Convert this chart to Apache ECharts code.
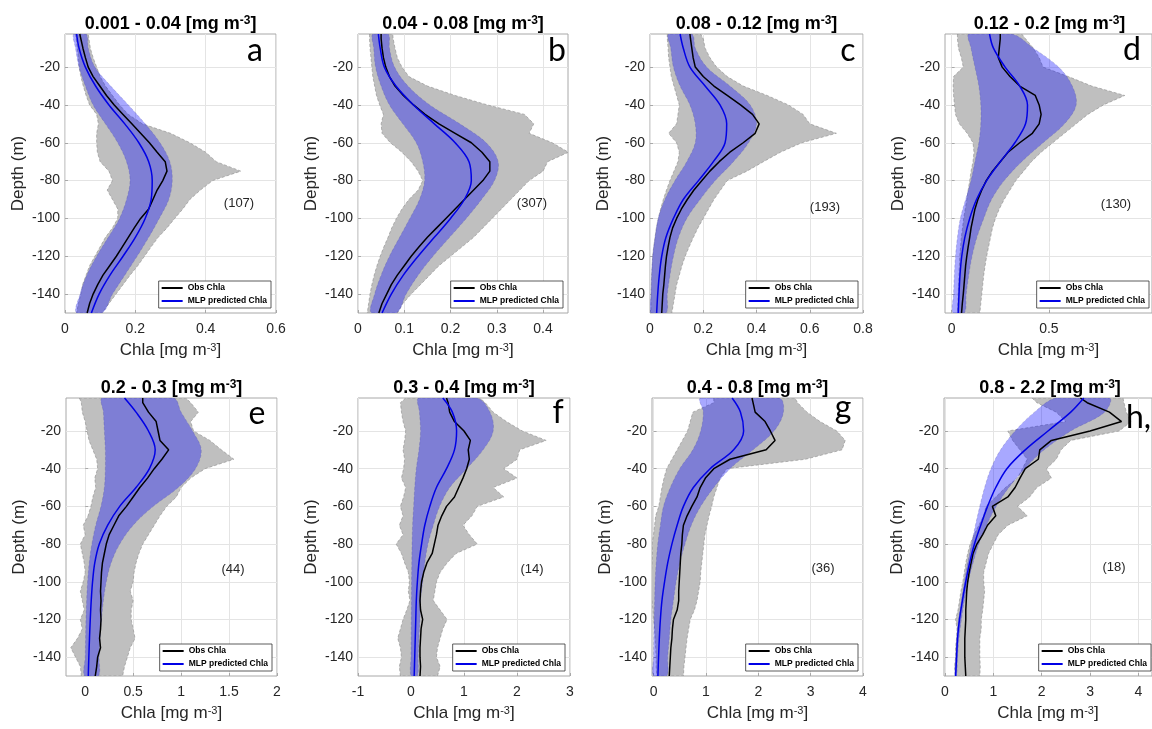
<!DOCTYPE html>
<html>
<head>
<meta charset="utf-8">
<title>Chla profiles by surface Chla class</title>
<script src="https://cdn.jsdelivr.net/npm/echarts@6.0.0/dist/echarts.min.js"></script>
<style>
  html, body { margin: 0; padding: 0; background: #fff; }
  #chart { width: 1152px; height: 729px; }
</style>
</head>
<body>
<div id="chart"></div>
<script>
// depth grids (m): observations every 5 m, MLP fit every 10 m
const depthObs = [-2.5, -5, -10, -15, -20, -25, -30, -35, -40, -45, -50, -55, -60, -65, -70, -75,
  -80, -85, -90, -95, -100, -105, -110, -115, -120, -125, -130, -135, -140, -145, -150];
const depthFit = [-2.5, -10, -20, -30, -40, -50, -60, -70, -80, -90, -100, -110, -120, -130, -140, -150];
const depthTicks = [-140, -120, -100, -80, -60, -40, -20];

const panelLetters = ['a', 'b', 'c', 'd', 'e', 'f', 'g', 'h,'];
const classRanges = ['0.001 - 0.04', '0.04 - 0.08', '0.08 - 0.12', '0.12 - 0.2',
  '0.2 - 0.3', '0.3 - 0.4', '0.4 - 0.8', '0.8 - 2.2'];
const profileCounts = ['(107)', '(307)', '(193)', '(130)', '(44)', '(14)', '(36)', '(18)'];
const xTicks = [
  [0, 0.2, 0.4, 0.6], [0, 0.1, 0.2, 0.3, 0.4], [0, 0.2, 0.4, 0.6, 0.8], [0, 0.5],
  [0, 0.5, 1, 1.5, 2], [-1, 0, 1, 2, 3], [0, 1, 2, 3, 4], [0, 1, 2, 3, 4],
];
const xRange = [[0, 0.6], [0, 0.454], [0, 0.8], [-0.034, 1.03], [-0.2, 2], [-1, 3], [-0.03, 4], [-0.02, 4.28]];

// a : 0.001 - 0.04
const obsA = [0.042, 0.045, 0.051, 0.058, 0.066, 0.08, 0.099, 0.118, 0.14, 0.165, 0.19, 0.215, 0.24, 0.262, 0.285, 0.29,
  0.278, 0.262, 0.25, 0.238, 0.215, 0.197, 0.18, 0.163, 0.146, 0.127, 0.108, 0.093, 0.08, 0.07, 0.063];
const grayLoA = [0.03, 0.032, 0.035, 0.038, 0.04, 0.045, 0.052, 0.06, 0.07, 0.09, 0.095, 0.09, 0.09, 0.092, 0.1, 0.125,
  0.135, 0.12, 0.135, 0.15, 0.15, 0.135, 0.115, 0.1, 0.085, 0.07, 0.06, 0.05, 0.045, 0.038, 0.033];
const grayHiA = [0.066, 0.068, 0.072, 0.08, 0.09, 0.1, 0.115, 0.135, 0.155, 0.18, 0.22, 0.3, 0.355, 0.4, 0.43, 0.5,
  0.42, 0.385, 0.355, 0.335, 0.312, 0.29, 0.265, 0.245, 0.226, 0.207, 0.185, 0.165, 0.145, 0.125, 0.105];
const fitA = [0.033, 0.04, 0.058, 0.087, 0.125, 0.17, 0.21, 0.238, 0.248, 0.245, 0.228, 0.2, 0.165, 0.128, 0.097, 0.075];
const bandLoA = [0.025, 0.03, 0.04, 0.058, 0.08, 0.115, 0.15, 0.175, 0.185, 0.175, 0.155, 0.123, 0.09, 0.062, 0.043, 0.033];
const bandHiA = [0.06, 0.066, 0.085, 0.13, 0.18, 0.228, 0.27, 0.298, 0.305, 0.295, 0.268, 0.238, 0.205, 0.17, 0.135, 0.105];

// b : 0.04 - 0.08
const obsB = [0.05, 0.05, 0.052, 0.055, 0.06, 0.068, 0.08, 0.098, 0.12, 0.145, 0.175, 0.21, 0.245, 0.268, 0.285, 0.285,
  0.27, 0.25, 0.23, 0.21, 0.19, 0.17, 0.15, 0.132, 0.115, 0.1, 0.085, 0.072, 0.062, 0.052, 0.045];
const grayLoB = [0.025, 0.025, 0.026, 0.028, 0.03, 0.032, 0.036, 0.04, 0.047, 0.055, 0.05, 0.052, 0.07, 0.095, 0.115, 0.13,
  0.14, 0.13, 0.11, 0.095, 0.083, 0.073, 0.065, 0.056, 0.048, 0.041, 0.035, 0.03, 0.026, 0.023, 0.02];
const grayHiB = [0.075, 0.076, 0.08, 0.085, 0.095, 0.11, 0.15, 0.21, 0.28, 0.36, 0.38, 0.37, 0.42, 0.455, 0.41, 0.4,
  0.37, 0.35, 0.33, 0.31, 0.29, 0.27, 0.25, 0.225, 0.2, 0.175, 0.155, 0.135, 0.115, 0.097, 0.085];
const fitB = [0.044, 0.048, 0.057, 0.082, 0.12, 0.165, 0.21, 0.24, 0.245, 0.23, 0.2, 0.165, 0.13, 0.098, 0.072, 0.052];
const bandLoB = [0.032, 0.034, 0.038, 0.05, 0.068, 0.097, 0.126, 0.14, 0.144, 0.133, 0.112, 0.09, 0.068, 0.05, 0.036, 0.029];
const bandHiB = [0.065, 0.068, 0.079, 0.108, 0.155, 0.22, 0.277, 0.303, 0.295, 0.267, 0.234, 0.198, 0.162, 0.13, 0.104, 0.083];

// c : 0.08 - 0.12
const obsC = [0.15, 0.152, 0.157, 0.162, 0.17, 0.2, 0.24, 0.29, 0.34, 0.385, 0.41, 0.395, 0.35, 0.3, 0.26, 0.225,
  0.195, 0.165, 0.14, 0.118, 0.1, 0.085, 0.075, 0.068, 0.062, 0.058, 0.055, 0.052, 0.048, 0.046, 0.044];
const grayLoC = [0.065, 0.065, 0.068, 0.07, 0.075, 0.08, 0.09, 0.1, 0.11, 0.105, 0.1, 0.07, 0.1, 0.11, 0.105, 0.09,
  0.075, 0.062, 0.05, 0.04, 0.031, 0.024, 0.019, 0.014, 0.01, 0.008, 0.006, 0.005, 0.004, 0.004, 0.004];
const grayHiC = [0.19, 0.2, 0.207, 0.225, 0.25, 0.29, 0.35, 0.44, 0.52, 0.575, 0.6, 0.7, 0.57, 0.49, 0.426, 0.364,
  0.29, 0.265, 0.24, 0.22, 0.2, 0.18, 0.163, 0.147, 0.132, 0.12, 0.11, 0.1, 0.094, 0.088, 0.082];
const fitC = [0.113, 0.125, 0.15, 0.207, 0.263, 0.288, 0.282, 0.238, 0.182, 0.125, 0.088, 0.06, 0.044, 0.035, 0.029, 0.025];
const bandLoC = [0.07, 0.078, 0.088, 0.113, 0.15, 0.17, 0.17, 0.138, 0.094, 0.056, 0.031, 0.019, 0.01, 0.006, 0.004, 0.003];
const bandHiC = [0.157, 0.17, 0.213, 0.3, 0.376, 0.4, 0.37, 0.313, 0.245, 0.188, 0.138, 0.107, 0.088, 0.075, 0.065, 0.06];

// d : 0.12 - 0.2
const obsD = [0.25, 0.25, 0.245, 0.24, 0.26, 0.3, 0.35, 0.43, 0.45, 0.46, 0.45, 0.415, 0.35, 0.29, 0.25, 0.21,
  0.178, 0.155, 0.135, 0.12, 0.11, 0.1, 0.093, 0.085, 0.078, 0.072, 0.068, 0.064, 0.06, 0.055, 0.051];
const grayLoD = [0.03, 0.03, 0.035, 0.05, 0.06, 0.01, 0.008, 0.01, 0.015, 0.02, 0.04, 0.08, 0.11, 0.115, 0.11, 0.1,
  0.093, 0.085, 0.078, 0.07, 0.062, 0.056, 0.05, 0.046, 0.042, 0.04, 0.038, 0.036, 0.034, 0.032, 0.03];
const grayHiD = [0.36, 0.38, 0.42, 0.45, 0.47, 0.6, 0.72, 0.89, 0.78, 0.7, 0.64, 0.58, 0.52, 0.46, 0.41, 0.37,
  0.33, 0.3, 0.27, 0.245, 0.225, 0.21, 0.2, 0.19, 0.18, 0.172, 0.165, 0.16, 0.155, 0.15, 0.145];
const fitD = [0.195, 0.215, 0.275, 0.35, 0.39, 0.38, 0.325, 0.25, 0.18, 0.128, 0.093, 0.068, 0.052, 0.043, 0.038, 0.034];
const bandLoD = [0.09, 0.1, 0.12, 0.14, 0.15, 0.15, 0.14, 0.12, 0.1, 0.072, 0.045, 0.03, 0.02, 0.014, 0.01, 0.007];
const bandHiD = [0.31, 0.42, 0.55, 0.62, 0.64, 0.58, 0.47, 0.36, 0.27, 0.205, 0.165, 0.13, 0.105, 0.088, 0.075, 0.065];

// e : 0.2 - 0.3
const obsE = [0.6, 0.6, 0.66, 0.74, 0.76, 0.78, 0.87, 0.8, 0.72, 0.65, 0.57, 0.5, 0.43, 0.35, 0.3, 0.25,
  0.22, 0.2, 0.18, 0.17, 0.165, 0.16, 0.165, 0.16, 0.165, 0.16, 0.15, 0.16, 0.13, 0.12, 0.105];
const grayLoE = [-0.06, -0.04, -0.03, 0.0, 0.02, 0.04, 0.08, 0.12, 0.13, 0.1, 0.11, 0.08, 0.06, 0.03, -0.02, 0.0,
  -0.05, -0.03, -0.01, 0.0, -0.02, -0.05, -0.03, -0.01, -0.05, -0.03, -0.08, -0.15, -0.1, -0.05, -0.04];
const grayHiE = [1.05, 1.1, 1.18, 1.1, 1.13, 1.3, 1.42, 1.55, 1.25, 1.1, 1.0, 0.95, 0.85, 0.78, 0.72, 0.66,
  0.6, 0.56, 0.53, 0.51, 0.5, 0.47, 0.5, 0.48, 0.48, 0.5, 0.52, 0.47, 0.44, 0.41, 0.39];
const fitE = [0.41, 0.53, 0.66, 0.73, 0.67, 0.53, 0.36, 0.235, 0.147, 0.1, 0.077, 0.063, 0.053, 0.045, 0.038, 0.032];
const bandLoE = [0.18, 0.19, 0.2, 0.21, 0.21, 0.2, 0.165, 0.11, 0.07, 0.042, 0.025, 0.015, 0.008, 0.004, 0.0, -0.005];
const bandHiE = [0.92, 1.0, 1.12, 1.21, 1.15, 0.97, 0.71, 0.5, 0.36, 0.27, 0.22, 0.19, 0.17, 0.155, 0.145, 0.137];

// f : 0.3 - 0.4
const obsF = [0.67, 0.7, 0.73, 0.82, 1.0, 1.12, 1.08, 1.1, 1.05, 0.98, 0.9, 0.82, 0.67, 0.58, 0.51, 0.48,
  0.44, 0.4, 0.3, 0.24, 0.2, 0.18, 0.17, 0.18, 0.22, 0.19, 0.18, 0.17, 0.17, 0.18, 0.17];
const grayLoF = [-0.1, -0.2, -0.18, -0.15, -0.1, -0.12, -0.15, -0.12, -0.14, -0.18, -0.1, -0.14, -0.2, -0.15, -0.22, -0.15,
  -0.28, -0.18, -0.12, -0.05, -0.03, -0.05, -0.02, -0.08, -0.15, -0.2, -0.25, -0.2, -0.18, -0.22, -0.2];
const grayHiF = [1.3, 1.4, 1.55, 1.8, 2.1, 2.55, 2.05, 2.0, 1.75, 2.0, 1.55, 1.75, 1.25, 1.15, 0.98, 1.1,
  1.25, 0.85, 0.68, 0.55, 0.48, 0.45, 0.42, 0.55, 0.68, 0.6, 0.55, 0.5, 0.48, 0.55, 0.5];
const fitF = [0.6, 0.78, 0.86, 0.82, 0.67, 0.48, 0.355, 0.26, 0.2, 0.15, 0.12, 0.1, 0.09, 0.08, 0.07, 0.06];
const bandLoF = [0.15, 0.16, 0.18, 0.15, 0.1, 0.07, 0.05, 0.03, 0.02, 0.015, 0.01, 0.008, 0.005, 0.003, 0.0, 0.0];
const bandHiF = [1.24, 1.49, 1.55, 1.36, 1.05, 0.73, 0.54, 0.42, 0.32, 0.26, 0.22, 0.18, 0.17, 0.15, 0.135, 0.12];

// g : 0.4 - 0.8
const obsG = [1.88, 1.9, 1.94, 2.13, 2.23, 2.32, 2.15, 1.46, 1.15, 0.99, 0.89, 0.83, 0.73, 0.64, 0.57, 0.55,
  0.54, 0.52, 0.51, 0.5, 0.49, 0.48, 0.48, 0.45, 0.38, 0.36, 0.35, 0.33, 0.32, 0.31, 0.3];
const grayLoG = [1.15, 1.15, 0.75, 0.7, 0.65, 0.55, 0.45, 0.35, 0.25, 0.2, 0.16, 0.13, 0.1, 0.04, 0.02, 0.0,
  -0.03, -0.02, -0.03, -0.04, -0.06, -0.1, -0.03, -0.01, 0.0, 0.02, 0.03, 0.04, 0.05, 0.05, 0.06];
const grayHiG = [2.7, 2.75, 2.93, 3.18, 3.5, 3.66, 3.6, 2.9, 1.4, 1.27, 1.21, 1.15, 1.11, 1.06, 1.02, 0.98,
  0.96, 0.94, 0.92, 0.9, 0.89, 0.86, 0.83, 0.78, 0.7, 0.67, 0.64, 0.62, 0.6, 0.58, 0.57];
const fitG = [1.5, 1.66, 1.72, 1.53, 1.08, 0.76, 0.57, 0.45, 0.35, 0.27, 0.21, 0.16, 0.13, 0.11, 0.095, 0.083];
const bandLoG = [0.9, 0.95, 0.9, 0.75, 0.5, 0.32, 0.19, 0.13, 0.08, 0.05, 0.03, 0.02, 0.01, 0.005, 0.0, 0.0];
const bandHiG = [2.4, 2.48, 2.3, 1.9, 1.46, 1.15, 0.9, 0.72, 0.6, 0.5, 0.43, 0.38, 0.33, 0.3, 0.27, 0.25];

// h : 0.8 - 2.2
const obsH = [2.8, 2.94, 3.4, 3.65, 3.0, 2.2, 1.96, 1.93, 1.66, 1.55, 1.45, 1.3, 0.98, 1.05, 0.88, 0.78,
  0.66, 0.58, 0.54, 0.5, 0.47, 0.45, 0.44, 0.43, 0.43, 0.42, 0.41, 0.41, 0.41, 0.42, 0.43];
const grayLoH = [1.8, 1.9, 2.3, 2.5, 1.3, 1.4, 1.55, 1.7, 1.6, 1.5, 1.25, 1.05, 0.85, 0.8, 0.7, 0.6,
  0.52, 0.47, 0.43, 0.4, 0.37, 0.33, 0.3, 0.27, 0.22, 0.25, 0.24, 0.22, 0.22, 0.2, 0.22];
const grayHiH = [3.68, 3.7, 3.75, 3.85, 3.6, 2.6, 2.4, 2.3, 2.1, 2.2, 1.9, 1.75, 1.5, 1.7, 1.3, 1.1,
  1.0, 0.9, 0.85, 0.8, 0.8, 0.82, 0.8, 0.78, 0.75, 0.75, 0.72, 0.72, 0.72, 0.73, 0.72];
const fitH = [2.87, 2.6, 2.13, 1.66, 1.28, 1.05, 0.88, 0.74, 0.61, 0.51, 0.43, 0.36, 0.3, 0.26, 0.24, 0.22];
const bandLoH = [2.3, 1.85, 1.45, 1.15, 0.95, 0.82, 0.72, 0.63, 0.55, 0.47, 0.4, 0.34, 0.28, 0.24, 0.22, 0.2];
const bandHiH = [3.4, 3.3, 2.6, 2.05, 1.65, 1.32, 1.06, 0.86, 0.7, 0.58, 0.48, 0.4, 0.34, 0.29, 0.26, 0.24];

const obsMean = [obsA, obsB, obsC, obsD, obsE, obsF, obsG, obsH];
const obsLo = [grayLoA, grayLoB, grayLoC, grayLoD, grayLoE, grayLoF, grayLoG, grayLoH];
const obsHi = [grayHiA, grayHiB, grayHiC, grayHiD, grayHiE, grayHiF, grayHiG, grayHiH];
const mlpMean = [fitA, fitB, fitC, fitD, fitE, fitF, fitG, fitH];
const mlpLo = [bandLoA, bandLoB, bandLoC, bandLoD, bandLoE, bandLoF, bandLoG, bandLoH];
const mlpHi = [bandHiA, bandHiB, bandHiC, bandHiD, bandHiE, bandHiF, bandHiG, bandHiH];

// plot boxes in page pixels
const layout = [
  { left: 65, top: 34, width: 211, height: 279 },
  { left: 358, top: 34, width: 210, height: 279 },
  { left: 650, top: 34, width: 213, height: 279 },
  { left: 945, top: 34, width: 209, height: 279 },
  { left: 66, top: 398, width: 211, height: 278 },
  { left: 358, top: 398, width: 212, height: 278 },
  { left: 652, top: 398, width: 211, height: 278 },
  { left: 944, top: 398, width: 212, height: 278 },
];
// letter (x, top, align) and count label centre
const letterPos = [[255, 35, 'center'], [557, 35, 'center'], [848, 35, 'center'], [1132, 34, 'center'],
  [257, 398, 'center'], [558, 397, 'center'], [843, 392, 'center'], [1126, 402, 'left']];
const countPos = [[239, 204], [532, 204], [825, 208], [1116, 205], [233, 570], [532, 570], [823, 569], [1114, 568]];

const FONT = '"Liberation Sans", Arial, sans-serif';
const TICK_COLOR = '#262626';
const GRAY_FILL = '#bfbfbf';
const BAND_FILL = 'rgba(0, 0, 255, 0.34)';
const W = 1152, H = 729;

const supRich = (size, weight) => ({
  sup: { fontSize: size, fontWeight: weight, fontFamily: FONT, verticalAlign: 'top', color: 'inherit' },
});

function envelope(idx, depths, lo, hi, style, smooth, z) {
  return {
    type: 'custom',
    xAxisIndex: idx,
    yAxisIndex: idx,
    silent: true,
    clip: true,
    z: z,
    data: [[lo[0], depths[0]]],
    renderItem: (params, api) => {
      const pts = [];
      depths.forEach((d, k) => pts.push(api.coord([lo[k], d])));
      for (let k = depths.length - 1; k >= 0; k--) pts.push(api.coord([hi[k], depths[k]]));
      return { type: 'polygon', shape: { points: pts, smooth: smooth }, style: style };
    },
  };
}

function buildOption() {
  const grid = [], xAxis = [], yAxis = [], series = [], legend = [], title = [];

  layout.forEach((g, i) => {
    grid.push({
      left: g.left, top: g.top, width: g.width, height: g.height,
      show: true, backgroundColor: '#fff', borderColor: '#a8a8a8', borderWidth: 1,
    });

    xAxis.push({
      type: 'value', gridIndex: i, min: xRange[i][0], max: xRange[i][1],
      axisLine: { show: false },
      axisTick: { show: true, inside: true, length: 3, customValues: xTicks[i], lineStyle: { color: '#a8a8a8' } },
      axisLabel: { customValues: xTicks[i], fontSize: 14, color: TICK_COLOR, fontFamily: FONT, margin: 9,
        formatter: v => String(v) },
      splitLine: { show: true, lineStyle: { color: '#e4e4e4', width: 1 } },
      name: 'Chla [mg m{sup|-3}]',
      nameLocation: 'middle',
      nameGap: 29,
      nameTextStyle: { fontSize: 17, color: TICK_COLOR, fontFamily: FONT, rich: supRich(11, 'normal') },
    });

    yAxis.push({
      type: 'value', gridIndex: i, min: -150, max: -2.5,
      axisLine: { show: false },
      axisTick: { show: true, inside: true, length: 3, customValues: depthTicks, lineStyle: { color: '#a8a8a8' } },
      axisLabel: { customValues: depthTicks, fontSize: 14, color: TICK_COLOR, fontFamily: FONT, margin: 5 },
      splitLine: { show: true, lineStyle: { color: '#e4e4e4', width: 1 } },
      name: 'Depth (m)',
      nameLocation: 'middle',
      nameGap: 38,
      nameRotate: 90,
      nameTextStyle: { fontSize: 17, color: TICK_COLOR, fontFamily: FONT },
    });

    series.push(envelope(i, depthObs, obsLo[i], obsHi[i],
      { fill: GRAY_FILL, stroke: '#8c8c8c', lineWidth: 0.6, lineDash: [3, 2] }, 0, 1));
    series.push(envelope(i, depthFit, mlpLo[i], mlpHi[i],
      { fill: BAND_FILL, stroke: 'rgba(70, 70, 150, 0.5)', lineWidth: 0.5, lineDash: [3, 2] }, 0.35, 2));

    series.push({
      name: 'Obs Chla', type: 'line', xAxisIndex: i, yAxisIndex: i,
      data: depthObs.map((d, k) => [obsMean[i][k], d]),
      showSymbol: false, silent: true, z: 3,
      itemStyle: { color: '#000' },
      lineStyle: { color: '#000', width: 1.5 },
    });
    series.push({
      name: 'MLP predicted Chla', type: 'line', xAxisIndex: i, yAxisIndex: i,
      data: depthFit.map((d, k) => [mlpMean[i][k], d]),
      smooth: 0.35, showSymbol: false, silent: true, z: 4,
      itemStyle: { color: '#0000e6' },
      lineStyle: { color: '#0000e6', width: 1.5 },
    });

    legend.push({
      orient: 'vertical',
      right: W - (g.left + g.width) + 5,
      bottom: H - (g.top + g.height) + 5,
      data: ['Obs Chla', 'MLP predicted Chla'],
      icon: 'rect', itemWidth: 21, itemHeight: 2, itemGap: 3, itemTextGap: 4,
      padding: [2, 4, 2, 3],
      backgroundColor: '#fff', borderColor: '#333', borderWidth: 0.8,
      selectedMode: false,
      textStyle: { fontSize: 8.5, fontWeight: 'bold', color: '#000', fontFamily: FONT, lineHeight: 10 },
    });

    const cx = g.left + g.width / 2;
    title.push({
      text: classRanges[i] + ' [mg m{sup|-3}]',
      left: cx, top: i < 4 ? 15 : 379, textAlign: 'center', padding: 0,
      textStyle: { fontSize: 18, fontWeight: 'bold', color: '#000', fontFamily: FONT, rich: supRich(12, 'bold') },
    });
    title.push({
      text: panelLetters[i],
      left: letterPos[i][0], top: letterPos[i][1], textAlign: letterPos[i][2], padding: 0,
      textStyle: { fontSize: 32, fontWeight: 'normal', color: '#000', fontFamily: 'Lato, "Open Sans", sans-serif' },
    });
    title.push({
      text: profileCounts[i],
      left: countPos[i][0], top: countPos[i][1] - 7, textAlign: 'center', padding: 0,
      textStyle: { fontSize: 13, fontWeight: 'normal', color: '#262626', fontFamily: FONT },
    });
  });

  return {
    backgroundColor: '#fff',
    animation: false,
    textStyle: { fontFamily: FONT },
    title, grid, xAxis, yAxis, legend, series,
  };
}

const chart = echarts.init(document.getElementById('chart'), null, { renderer: 'canvas' });
chart.setOption(buildOption());
</script>
</body>
</html>
